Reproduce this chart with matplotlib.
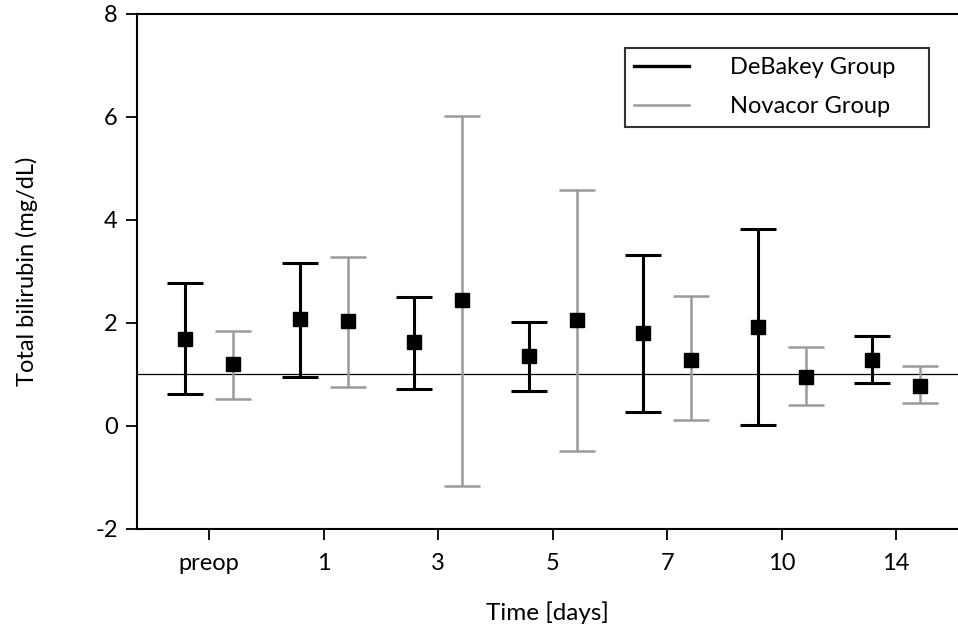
import numpy as np
import matplotlib.pyplot as plt
from matplotlib.lines import Line2D

plt.rcParams['font.family'] = ['Lato', 'DejaVu Sans']
plt.rcParams['axes.unicode_minus'] = False

# time points and group summaries (mean with lower/upper range)
days = ['preop', '1', '3', '5', '7', '10', '14']

debakey_mean = [1.69, 2.08, 1.63, 1.35, 1.80, 1.92, 1.28]
debakey_low = [0.63, 0.96, 0.71, 0.67, 0.28, 0.02, 0.83]
debakey_high = [2.78, 3.17, 2.51, 2.02, 3.32, 3.82, 1.74]

novacor_mean = [1.20, 2.03, 2.44, 2.05, 1.28, 0.96, 0.78]
novacor_low = [0.53, 0.75, -1.17, -0.49, 0.11, 0.40, 0.44]
novacor_high = [1.84, 3.29, 6.01, 4.59, 2.52, 1.53, 1.17]

ref_level = 1.0

x = np.arange(len(days))
shift = 0.21

fig = plt.figure(figsize=(9.58, 6.35), dpi=100)
ax = fig.add_axes([0.143, 0.167, 0.857, 0.811])

ax.axhline(ref_level, color='black', lw=0.9, zorder=1)

dm = np.array(debakey_mean)
nm = np.array(novacor_mean)
ax.errorbar(x - shift, dm, yerr=[dm - np.array(debakey_low), np.array(debakey_high) - dm],
            fmt='none', ecolor='black', elinewidth=2.2, capsize=13, capthick=2.2, zorder=2)
ax.errorbar(x + shift, nm, yerr=[nm - np.array(novacor_low), np.array(novacor_high) - nm],
            fmt='none', ecolor='#9a9a9a', elinewidth=1.8, capsize=13, capthick=1.8, zorder=2)
ax.plot(x - shift, dm, 's', color='black', ms=10, zorder=3)
ax.plot(x + shift, nm, 's', color='black', ms=10, zorder=3)

ax.set_xlim(-0.629, 6.54)
ax.set_ylim(-2, 8)
ax.set_xticks(x)
ax.set_xticklabels(days)
ax.set_yticks([-2, 0, 2, 4, 6, 8])

for side in ['left', 'bottom', 'top']:
    ax.spines[side].set_linewidth(1.5)
ax.spines['right'].set_visible(False)
ax.tick_params(direction='out', length=8, width=1.3, labelsize=17, pad=6)
ax.tick_params(axis='x', pad=9)

ax.set_ylabel('Total bilirubin (mg/dL)', fontsize=17, labelpad=41)
ax.set_xlabel('Time [days]', fontsize=17.5, labelpad=20)

# trailing spaces widen the frame on the right side
handles = [Line2D([], [], color='black', lw=2.4),
           Line2D([], [], color='#9a9a9a', lw=1.8)]
leg = ax.legend(handles, ['DeBakey Group    ', 'Novacor Group    '], loc='upper right',
                bbox_to_anchor=(0.965, 0.934), fontsize=17, frameon=True, fancybox=False,
                edgecolor='black', handlelength=2.33, handletextpad=1.75,
                borderpad=0.4, labelspacing=0.76, borderaxespad=0)
leg.get_frame().set_linewidth(1.5)

fig.savefig('out.png', dpi=100)
